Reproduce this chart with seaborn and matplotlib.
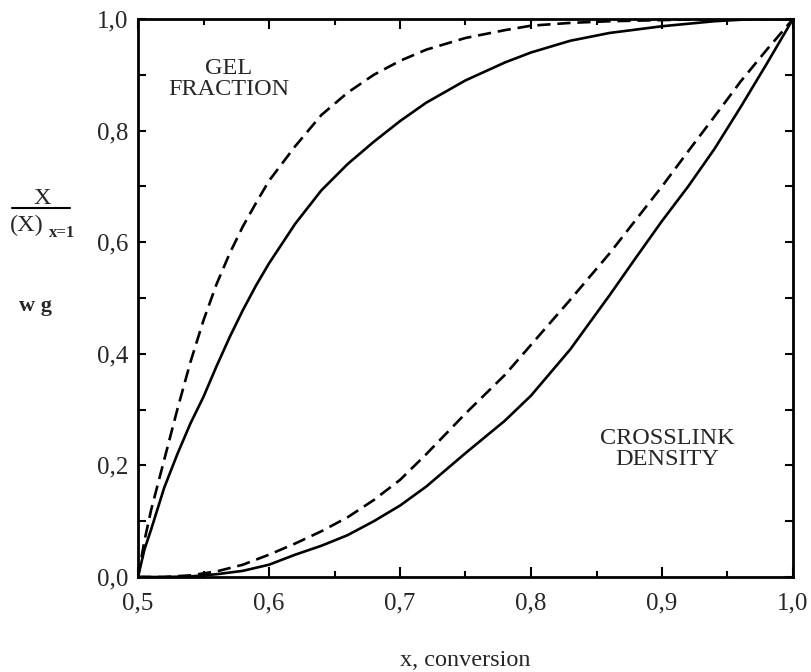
import numpy as np
import pandas as pd
import matplotlib
matplotlib.use("Agg")
import matplotlib.pyplot as plt
import seaborn as sns
from matplotlib.ticker import MultipleLocator, FuncFormatter
from matplotlib.lines import Line2D

# ---- data ----
gel_x = [0.50, 0.505, 0.51, 0.52, 0.53, 0.54, 0.55, 0.56, 0.57, 0.58, 0.59, 0.60, 0.62, 0.64,
         0.66, 0.68, 0.70, 0.72, 0.75, 0.78, 0.80, 0.83, 0.86, 0.90, 0.94, 0.97, 1.00]
gel_dashed = [0.0, 0.066, 0.12, 0.21, 0.30, 0.385, 0.46, 0.525, 0.58, 0.628, 0.67, 0.71, 0.772, 0.828,
              0.868, 0.900, 0.925, 0.945, 0.966, 0.98, 0.988, 0.993, 0.996, 0.998, 1.0, 1.0, 1.0]
gel_solid = [0.0, 0.05, 0.085, 0.16, 0.22, 0.275, 0.323, 0.378, 0.43, 0.478, 0.522, 0.562, 0.633, 0.693,
             0.740, 0.780, 0.817, 0.850, 0.890, 0.922, 0.940, 0.961, 0.975, 0.987, 0.996, 1.0, 1.0]

cl_x = [0.50, 0.52, 0.54, 0.56, 0.58, 0.60, 0.62, 0.64, 0.66, 0.68, 0.70, 0.72, 0.75,
        0.78, 0.80, 0.83, 0.86, 0.88, 0.90, 0.92, 0.94, 0.96, 0.98, 1.00]
cl_dashed = [0.0, 0.0, 0.003, 0.01, 0.022, 0.04, 0.06, 0.082, 0.107, 0.138, 0.174, 0.220, 0.293,
             0.362, 0.416, 0.497, 0.58, 0.64, 0.70, 0.763, 0.825, 0.888, 0.945, 1.0]
cl_solid = [0.0, 0.0, 0.001, 0.005, 0.011, 0.022, 0.040, 0.056, 0.075, 0.100, 0.128, 0.162, 0.222,
            0.280, 0.325, 0.408, 0.505, 0.572, 0.638, 0.700, 0.767, 0.842, 0.920, 1.0]

x_ticks = [0.5, 0.6, 0.7, 0.8, 0.9, 1.0]
y_ticks = [0.0, 0.2, 0.4, 0.6, 0.8, 1.0]

sns.set_theme(style="ticks")
plt.rcParams['font.family'] = ['Liberation Serif', 'DejaVu Serif']

df = pd.concat([
    pd.DataFrame({"x": gel_x, "y": gel_dashed, "curve": "gel_d"}),
    pd.DataFrame({"x": gel_x, "y": gel_solid, "curve": "gel_s"}),
    pd.DataFrame({"x": cl_x, "y": cl_dashed, "curve": "cl_d"}),
    pd.DataFrame({"x": cl_x, "y": cl_solid, "curve": "cl_s"}),
])

fig = plt.figure(figsize=(8.12, 6.72), dpi=100)
ax = fig.add_axes([138/812, 1-577/672, (793-138)/812, (577-19)/672])

for name, ls in [("gel_d", (0, (5, 2.6))), ("gel_s", "-"), ("cl_d", (0, (5, 2.6))), ("cl_s", "-")]:
    sub = df[df.curve == name]
    sns.lineplot(data=sub, x="x", y="y", ax=ax, color="black", lw=1.9,
                 linestyle=ls, sort=False, estimator=None)

ax.set_xlim(0.5, 1.0)
ax.set_ylim(0.0, 1.0)
ax.set_xticks(x_ticks)
ax.set_yticks(y_ticks)
ax.xaxis.set_minor_locator(MultipleLocator(0.05))
ax.yaxis.set_minor_locator(MultipleLocator(0.1))
fmt = FuncFormatter(lambda v, p: f"{v:.1f}".replace(".", ","))
ax.xaxis.set_major_formatter(fmt)
ax.yaxis.set_major_formatter(fmt)
ax.tick_params(which="both", direction="in", top=True, right=True, width=1.5, color="black")
ax.tick_params(axis="x", which="major", length=7, pad=11, labelsize=18)
ax.tick_params(axis="x", which="minor", length=4)
ax.tick_params(axis="y", which="major", length=6, pad=7, labelsize=18)
ax.tick_params(axis="y", which="minor", length=6)
for s in ax.spines.values():
    s.set_linewidth(2.0)
    s.set_color("black")
ax.set_xlabel("")
ax.set_ylabel("")

ax.text(0.569, 0.893, "GEL\nFRACTION", ha="center", va="center", fontsize=17.5,
        linespacing=1.0)
ax.text(0.904, 0.230, "CROSSLINK\nDENSITY", ha="center", va="center", fontsize=17.5,
        linespacing=1.0)

fig.text(465/812, 1-660/672, "x, conversion", ha="center", va="center", fontsize=17.5)

# y-axis label: fraction X/(X)_{x=1} and w_g
fig.text(42/812, 1-199/672, "X", ha="center", va="center", fontsize=17.5)
fig.add_artist(Line2D([12/812, 70/812], [1-208/672, 1-208/672], color="black", lw=1.5,
                      transform=fig.transFigure))
fig.text(27/812, 1-225/672, "(X)", ha="center", va="center", fontsize=17.5)
fig.text(62/812, 1-233/672, "x=1", ha="center", va="center", fontsize=12, fontweight="bold")
fig.text(36/812, 1-306/672, "w g", ha="center", va="center", fontsize=16, fontweight="bold")

fig.savefig("out.png", dpi=100)
